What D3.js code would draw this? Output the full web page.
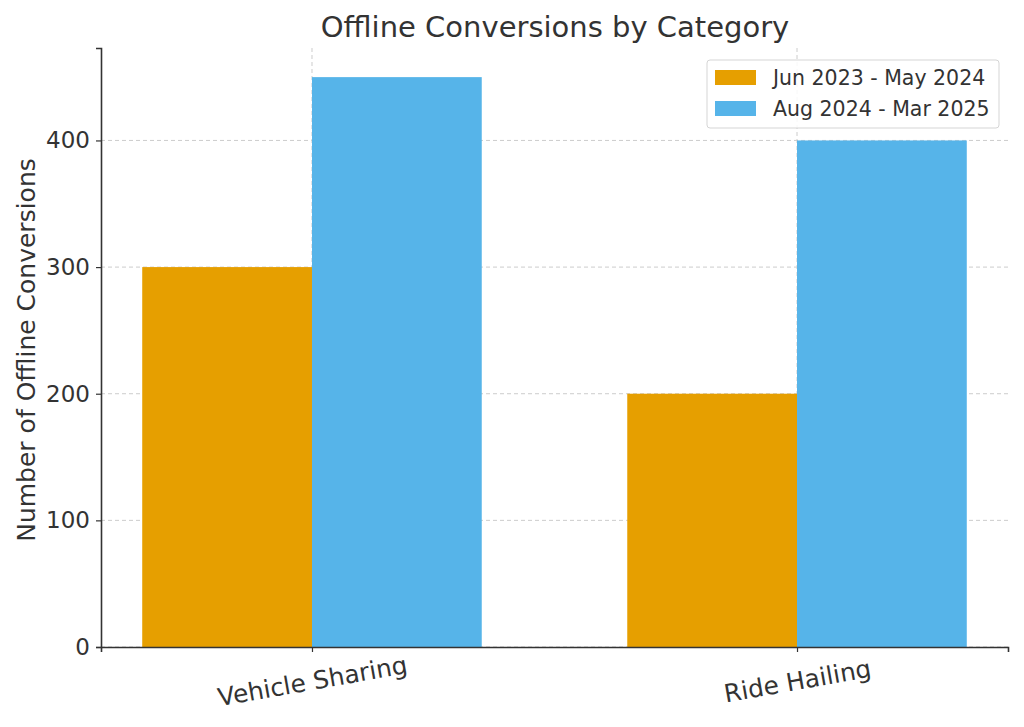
<!DOCTYPE html>
<html>
<head>
<meta charset="utf-8">
<title>Offline Conversions by Category</title>
<script src="https://d3js.org/d3.v7.min.js"></script>
<style>
  body { margin: 0; background: #fff; }
  text { font-family: "DejaVu Sans", sans-serif; fill: #333; }
</style>
</head>
<body>
<div id="wrapper"></div>
<script>
const categories = ["Vehicle Sharing", "Ride Hailing"];
const seriesNames = ["Jun 2023 - May 2024", "Aug 2024 - Mar 2025"];
const seriesA = [300, 200];
const seriesB = [450, 400];
const yTicks = [0, 100, 200, 300, 400];
const colors = ["#E69F00", "#56B4E9"];

const dimensions = {
  width: 1024,
  height: 727,
  margin: { top: 48, right: 16, bottom: 80, left: 101 }
};
dimensions.boundedWidth = dimensions.width - dimensions.margin.left - dimensions.margin.right;
dimensions.boundedHeight = dimensions.height - dimensions.margin.top - dimensions.margin.bottom;

const svg = d3.select("#wrapper").append("svg")
  .attr("width", dimensions.width)
  .attr("height", dimensions.height);

const bounds = svg.append("g")
  .attr("transform", `translate(${dimensions.margin.left},${dimensions.margin.top})`);

const barWidth = 0.35;
const xScale = d3.scaleLinear()
  .domain([-0.435, 1.435])
  .range([0, dimensions.boundedWidth]);
const yScale = d3.scaleLinear()
  .domain([0, 473])
  .range([dimensions.boundedHeight, 0]);

// grid
bounds.append("g").selectAll("line")
  .data(yTicks)
  .join("line")
  .attr("x1", 0).attr("x2", dimensions.boundedWidth)
  .attr("y1", d => yScale(d)).attr("y2", d => yScale(d))
  .attr("stroke", "#ccc").attr("stroke-width", 1).attr("stroke-dasharray", "4,3");
bounds.append("g").selectAll("line")
  .data(categories)
  .join("line")
  .attr("x1", (d, i) => xScale(i)).attr("x2", (d, i) => xScale(i))
  .attr("y1", 0).attr("y2", dimensions.boundedHeight)
  .attr("stroke", "#ccc").attr("stroke-width", 1).attr("stroke-dasharray", "4,3");

// bars
const series = [seriesA, seriesB];
series.forEach((vals, s) => {
  bounds.append("g").selectAll("rect")
    .data(vals)
    .join("rect")
    .attr("x", (d, i) => xScale(i + (s === 0 ? -barWidth : 0)))
    .attr("width", xScale(barWidth) - xScale(0))
    .attr("y", d => yScale(d))
    .attr("height", d => yScale(0) - yScale(d))
    .attr("fill", colors[s]);
});

// axes
const yAxis = bounds.append("g")
  .call(d3.axisLeft(yScale).tickValues(yTicks).tickSize(5).tickPadding(6));
yAxis.selectAll("text").style("font-size", "23px");

const xAxis = bounds.append("g")
  .attr("transform", `translate(0,${dimensions.boundedHeight})`)
  .call(d3.axisBottom(xScale).tickValues([0, 1]).tickFormat(i => categories[i]).tickSize(5));
xAxis.selectAll("text")
  .style("font-size", "24.8px")
  .attr("text-anchor", "middle")
  .attr("y", 0)
  .attr("dy", "0.35em")
  .attr("transform", "translate(0,34) rotate(-10)");

[yAxis, xAxis].forEach(ax => {
  ax.select(".domain").attr("stroke", "#333").attr("stroke-width", 1.6);
  ax.selectAll(".tick line").attr("stroke", "#333").attr("stroke-width", 1.2);
});

// labels
svg.append("text")
  .attr("x", 555)
  .attr("y", 37)
  .attr("text-anchor", "middle")
  .style("font-size", "29px")
  .text("Offline Conversions by Category");

svg.append("text")
  .attr("transform", `translate(35,350) rotate(-90)`)
  .attr("text-anchor", "middle")
  .style("font-size", "25px")
  .text("Number of Offline Conversions");

// legend
const legend = svg.append("g").attr("transform", "translate(707,60)");
legend.append("rect")
  .attr("width", 292).attr("height", 68).attr("rx", 3)
  .attr("fill", "#fff").attr("fill-opacity", 0.85)
  .attr("stroke", "#d5d5d5");
seriesNames.forEach((name, i) => {
  legend.append("rect")
    .attr("x", 8).attr("y", 10 + i * 31)
    .attr("width", 41).attr("height", 15)
    .attr("fill", colors[i]);
  legend.append("text")
    .attr("x", 66).attr("y", 25 + i * 31)
    .style("font-size", "20.5px")
    .text(name);
});
</script>
</body>
</html>
